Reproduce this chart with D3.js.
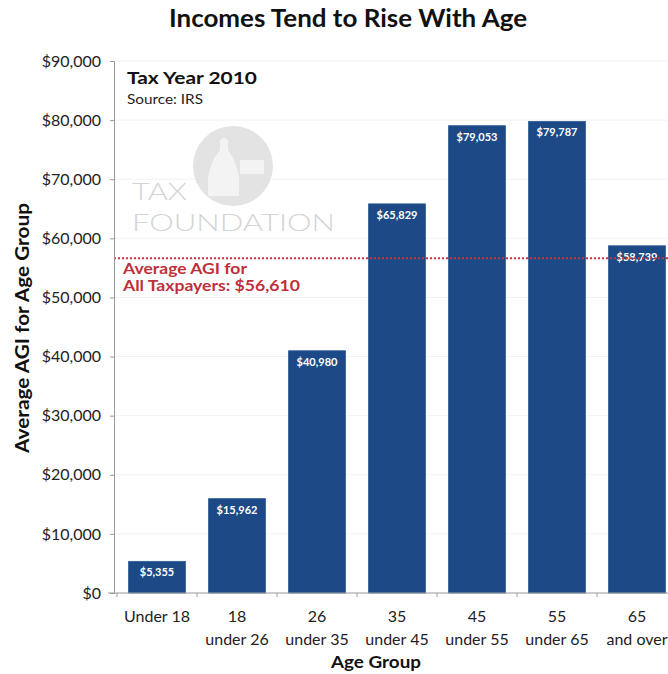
<!DOCTYPE html>
<html><head><meta charset="utf-8">
<script src="https://cdn.jsdelivr.net/npm/d3@7"></script>
<style>body{margin:0;background:#fff}svg{display:block}</style>
</head><body>
<script>
const categories = [["Under 18"],["18","under 26"],["26","under 35"],["35","under 45"],["45","under 55"],["55","under 65"],["65","and over"]];
const values = [5355, 15962, 40980, 65829, 79053, 79787, 58739];
const valueLabels = ["$5,355","$15,962","$40,980","$65,829","$79,053","$79,787","$58,739"];
const yTicks = [0,10000,20000,30000,40000,50000,60000,70000,80000,90000];
const averageAGI = 56610;

const W = 668, H = 674;
const font = "Lato, 'Open Sans', sans-serif";
const svg = d3.select("body").append("svg").attr("width", W).attr("height", H);

const x = d3.scaleBand().domain(d3.range(values.length)).range([117, 677]).paddingInner(0.29).paddingOuter(0.145);
const y = d3.scaleLinear().domain([0, 90000]).range([593, 61]);

// faint gridlines
svg.append("g").selectAll("line").data(yTicks.slice(1)).join("line")
  .attr("x1", 114).attr("x2", W).attr("y1", d => y(d)).attr("y2", d => y(d))
  .attr("stroke", "#f2f2f2").attr("stroke-width", 1);

// watermark
const wm = svg.append("g");
wm.append("circle").attr("cx", 233).attr("cy", 166).attr("r", 40).attr("fill", "#e3e3e3");
wm.append("path").attr("d", "M208,196 L208,178 Q211,160 220,150 L220,140 L224,137 L228,140 L228,150 Q236,160 239,178 L239,196 Z").attr("fill", "#f3f3f3");
wm.append("rect").attr("x", 240).attr("y", 160).attr("width", 24).attr("height", 14).attr("fill", "#f3f3f3");
wm.append("text").attr("x", 132).attr("y", 200).text("TAX").attr("textLength", 55).attr("lengthAdjust", "spacingAndGlyphs")
  .attr("font-family", font).attr("font-size", 24).attr("font-weight", 300).attr("fill", "#d4d4d4");
wm.append("text").attr("x", 132).attr("y", 231).text("FOUNDATION").attr("textLength", 203).attr("lengthAdjust", "spacingAndGlyphs")
  .attr("font-family", font).attr("font-size", 24).attr("font-weight", 300).attr("fill", "#d4d4d4");

// bars
svg.append("g").selectAll("rect").data(values).join("rect")
  .attr("x", (d,i) => x(i)).attr("width", x.bandwidth())
  .attr("y", d => y(d)).attr("height", d => y(0) - y(d))
  .attr("fill", "#1d4a86").attr("stroke", "#2c5a96").attr("stroke-width", 0.8);

svg.append("g").selectAll("text").data(values).join("text")
  .attr("x", (d,i) => x(i) + x.bandwidth()/2).attr("y", d => y(d) + 15)
  .attr("text-anchor", "middle").attr("font-family", font).attr("font-weight", "bold")
  .attr("font-size", 11).attr("fill", "#fff").text((d,i) => valueLabels[i]);

// average line
svg.append("line").attr("x1", 114).attr("x2", W).attr("y1", y(averageAGI)).attr("y2", y(averageAGI))
  .attr("stroke", "#c8323a").attr("stroke-width", 2).attr("stroke-dasharray", "2,2");
const avgT = svg.append("g").attr("font-family", font).attr("font-weight", "bold").attr("font-size", 15).attr("fill", "#c0303a");
avgT.append("text").attr("x", 123).attr("y", y(averageAGI) + 16).attr("textLength", 124).attr("lengthAdjust", "spacingAndGlyphs").text("Average AGI for");
avgT.append("text").attr("x", 123).attr("y", y(averageAGI) + 33).attr("textLength", 177).attr("lengthAdjust", "spacingAndGlyphs").text("All Taxpayers: $56,610");

// y axis
const yAxis = svg.append("g").attr("transform", "translate(114,0)")
  .call(d3.axisLeft(y).tickValues(yTicks).tickSize(4).tickPadding(9).tickFormat(d => "$" + d3.format(",")(d)));
yAxis.select(".domain").attr("stroke", "#999");
yAxis.selectAll(".tick line").attr("stroke", "#999");
yAxis.selectAll("text").attr("font-family", font).attr("font-size", 16).attr("fill", "#222");

// x axis
const xAxis = svg.append("g").attr("transform", "translate(0,593)");
xAxis.append("line").attr("x1", 108).attr("x2", W).attr("stroke", "#999");
xAxis.selectAll("line.t").data(d3.range(values.length + 1)).join("line").attr("class","t")
  .attr("x1", i => x.range()[0] + i * x.step()).attr("x2", i => x.range()[0] + i * x.step())
  .attr("y1", 0).attr("y2", 4).attr("stroke", "#999");
const xl = xAxis.selectAll("text").data(categories).join("text")
  .attr("text-anchor", "middle").attr("font-family", font).attr("font-size", 16).attr("fill", "#222");
xl.each(function(d, i) {
  const t = d3.select(this);
  d.forEach((s, k) => t.append("tspan").attr("x", x(i) + x.bandwidth()/2).attr("y", 29 + k * 22.5).text(s));
});

// titles
svg.append("text").attr("x", 348).attr("y", 27).attr("text-anchor", "middle")
  .attr("font-family", font).attr("font-weight", "bold").attr("font-size", 24).attr("fill", "#111")
  .attr("textLength", 358).attr("lengthAdjust", "spacingAndGlyphs")
  .text("Incomes Tend to Rise With Age");
svg.append("text").attr("x", 127).attr("y", 84).attr("font-family", font).attr("font-weight", "bold")
  .attr("font-size", 17).attr("fill", "#111").attr("textLength", 130).attr("lengthAdjust", "spacingAndGlyphs").text("Tax Year 2010");
svg.append("text").attr("x", 127).attr("y", 104).attr("font-family", font)
  .attr("font-size", 14).attr("fill", "#222").attr("textLength", 76).attr("lengthAdjust", "spacingAndGlyphs").text("Source: IRS");
svg.append("text").attr("x", 376).attr("y", 668).attr("text-anchor", "middle")
  .attr("font-family", font).attr("font-weight", "bold").attr("font-size", 17).attr("fill", "#111")
  .attr("textLength", 90).attr("lengthAdjust", "spacingAndGlyphs").text("Age Group");
svg.append("text").attr("transform", "translate(29,328) rotate(-90)").attr("text-anchor", "middle")
  .attr("font-family", font).attr("font-weight", "bold").attr("font-size", 18).attr("fill", "#111")
  .attr("textLength", 250).attr("lengthAdjust", "spacingAndGlyphs").text("Average AGI for Age Group");
</script>
</body></html>
